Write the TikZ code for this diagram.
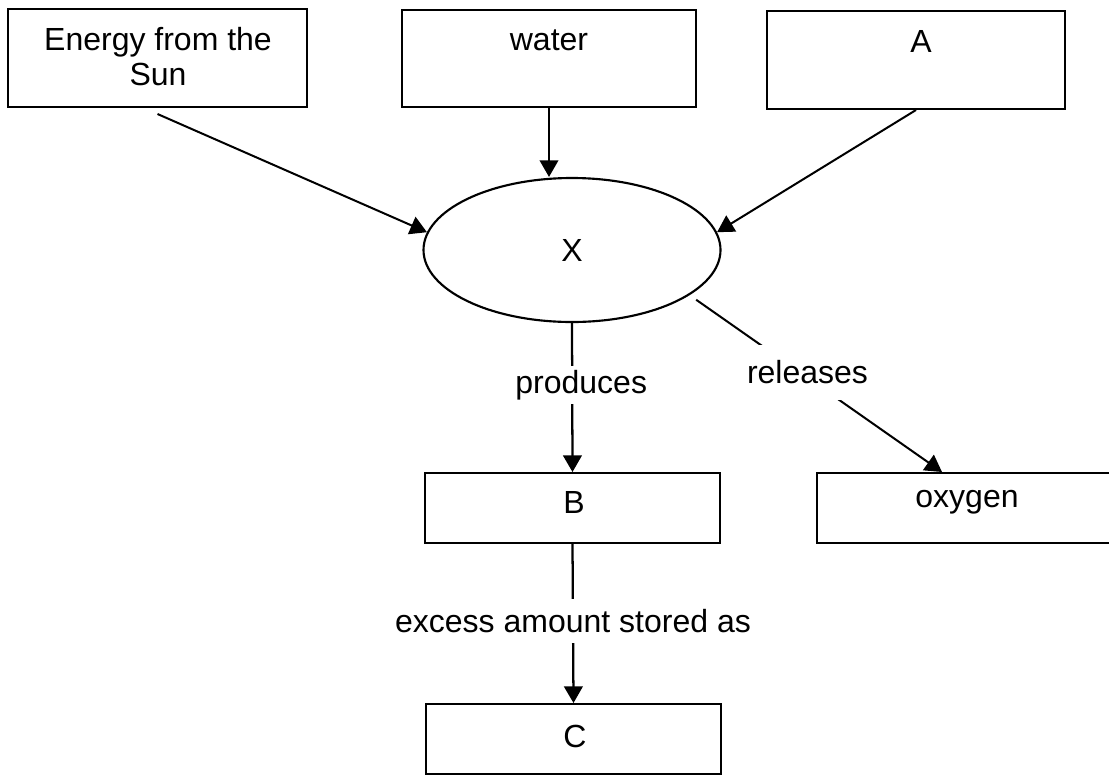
\documentclass[tikz,border=0pt]{standalone}
\usepackage{fontspec}
\setmainfont{Liberation Sans}
\usetikzlibrary{arrows.meta,shapes.geometric}
\begin{document}
\begin{tikzpicture}[x=0.75pt,y=-0.75pt,
  box/.style={draw,line width=1.5pt,rectangle,inner sep=0pt},
  txt/.style={inner sep=0pt,font=\fontsize{24}{26}\selectfont},
  oval/.style={draw,line width=1.6pt,ellipse,inner sep=0pt,font=\fontsize{24}{26}\selectfont},
  arr/.style={line width=1.5pt,-{Triangle[length=12.5pt,width=14pt]}},
  lbl/.style={fill=white,inner xsep=2pt,font=\fontsize{24}{26}\selectfont}
]
\clip (0,0) rectangle (1109,775);
\fill[white] (0,0) rectangle (1109,775);
% boxes
\node[box,minimum width=224.25pt,minimum height=73.5pt] (sun) at (157.5,58) {};
\node[box,minimum width=220.5pt,minimum height=72.75pt] (water) at (549,58.5) {};
\node[box,minimum width=223.5pt,minimum height=73.5pt] (A) at (916,60) {};
\node[oval,minimum width=222.75pt,minimum height=108pt] (X) at (572,250) {X};
\node[box,minimum width=221.25pt,minimum height=52.5pt] (B) at (572.5,508) {};
\node[box,minimum width=223.5pt,minimum height=52.5pt] (oxy) at (966,508) {};
\node[box,minimum width=221.25pt,minimum height=52.5pt] (C) at (573.5,739) {};
% box texts
\node[txt,align=center,anchor=north] (tsun) at (158,27) {Energy from the\\Sun};
\node[txt,anchor=base] (twater) at (549,50) {water};
\node[txt,anchor=base] (tA) at (921,52) {A};
\node[txt,anchor=base] (tB) at (574,513) {B};
\node[txt,anchor=base] (toxy) at (967,507) {oxygen};
\node[txt,anchor=base] (tC) at (575,747) {C};
% connectors
\draw[arr] ([yshift=-4.5pt]sun.south) -- (X.173);
\draw[arr] (water.south) -- (water.south |- X.north);
\draw[arr] (A.south) -- (X.7);
\draw[arr,line width=1.7pt] (X.south) -- node[lbl,pos=0.417,xshift=6.75pt,inner ysep=3pt] {produces} (B.north);
\draw[arr,shorten <=6pt] (X.-21) -- node[lbl,pos=0.467,yshift=4pt,inner ysep=12pt] {releases} ([xshift=94.5pt]oxy.north west);
\draw[arr,line width=1.7pt] (B.south) -- node[lbl,pos=0.484,inner ysep=8pt] {excess amount stored as} (C.north);
\end{tikzpicture}
\end{document}
